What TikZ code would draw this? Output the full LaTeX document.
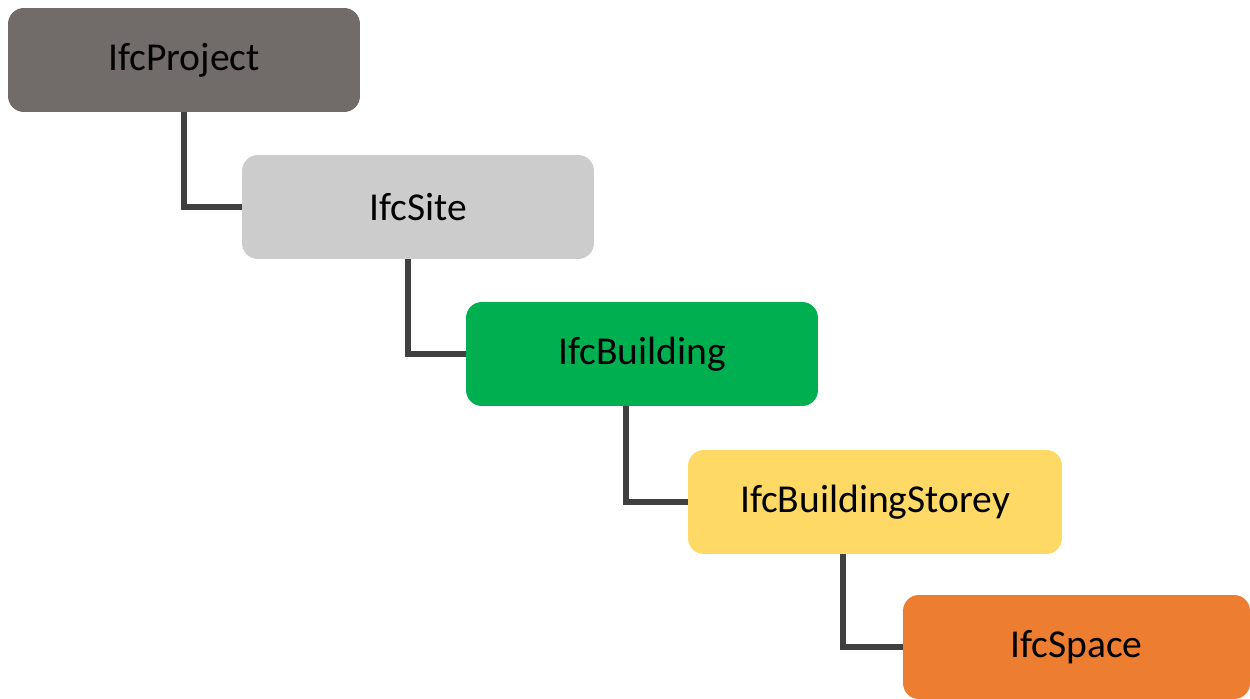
\documentclass[tikz,border=0pt]{standalone}
\usepackage{fontspec}
\setmainfont{Carlito}
\usepackage{xcolor}
\usetikzlibrary{positioning, calc}

\definecolor{projgray}{HTML}{716B69}
\definecolor{sitegray}{HTML}{CCCCCC}
\definecolor{bldgreen}{HTML}{00AF4F}
\definecolor{storeyyellow}{HTML}{FFD965}
\definecolor{spaceorange}{HTML}{EC7D31}
\definecolor{linkgray}{HTML}{404040}

\tikzset{
  ifcbox/.style={
    rectangle, rounded corners=9pt, draw=none,
    minimum height=2.08cm, minimum width=7.04cm,
    font=\fontsize{22.5}{26}\selectfont, text=black,
    inner sep=4pt, align=center
  },
  link/.style={draw=linkgray, line width=2.9pt, line cap=butt, line join=miter},
}

\begin{document}
\begin{tikzpicture}[x=0.02cm, y=-0.02cm]
    \useasboundingbox (0,0) rectangle (1250,699);

    %% Spatial hierarchy
    \node[ifcbox, fill=projgray] (proj) at (184,60) {IfcProject};
    \node[ifcbox, fill=sitegray] (site) at (418,207) {IfcSite};
    \node[ifcbox, fill=bldgreen] (bldg) at (642,354) {IfcBuilding};
    \node[ifcbox, fill=storeyyellow, minimum width=7.48cm] (storey) at (875,502) {IfcBuildingStorey};
    \node[ifcbox, fill=spaceorange, minimum width=6.94cm] (space) at (1076.5,647) {IfcSpace};

    %% Connectors
    \draw[link] (proj.south) |- (site.west);
    \draw[link] ([xshift=-0.2cm]site.south) |- (bldg.west);
    \draw[link] ([xshift=-0.32cm]bldg.south) |- (storey.west);
    \draw[link] ([xshift=-0.64cm]storey.south) |- (space.west);

  \end{tikzpicture}
\end{document}
